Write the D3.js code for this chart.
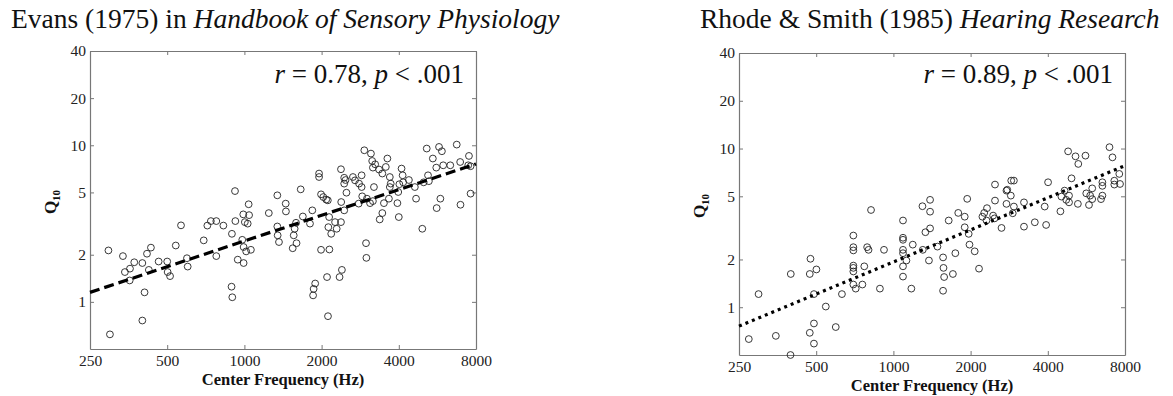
<!DOCTYPE html>
<html>
<head>
<meta charset="utf-8">
<script src="https://cdn.jsdelivr.net/npm/d3@7"></script>
<style>
  body { margin: 0; background: #fff; }
  text { font-family: "Liberation Serif", "Times New Roman", serif; }
</style>
</head>
<body>
<svg id="chart" width="1173" height="396"></svg>
<script>
// Tick values shared by both panels
const freqTicks = [250, 500, 1000, 2000, 4000, 8000];
const qTicks = [1, 2, 5, 10, 20, 40];

// Evans (1975): [center frequency Hz, Q10]
const evansPoints = [
  [295, 2.13], [299, 0.62], [336, 1.96], [342, 1.55], [357, 1.37], [358, 1.63], [372, 1.79],
  [400, 1.77], [400, 0.76], [408, 1.15], [417, 2.03], [424, 1.60], [432, 2.22], [463, 1.81],
  [500, 1.81], [502, 1.55], [513, 1.46], [540, 2.29], [566, 3.08], [597, 1.90], [601, 1.68],
  [694, 2.47], [717, 3.07], [740, 3.28], [777, 3.28], [777, 1.96], [828, 3.07], [894, 2.72],
  [891, 1.25], [897, 1.07], [919, 5.1], [922, 3.28], [942, 1.86], [981, 2.49], [990, 3.62],
  [993, 1.77], [993, 2.24], [1004, 3.23], [1016, 2.10], [1030, 3.16], [1039, 4.2], [1043, 3.58],
  [1060, 2.15], [1245, 3.69], [1344, 4.79], [1344, 3.03], [1348, 2.66], [1364, 2.41],
  [1449, 4.24], [1452, 3.78], [1543, 2.2], [1557, 2.66], [1570, 2.93], [1590, 3.2], [1597, 2.37],
  [1658, 5.23], [1690, 3.51], [1802, 3.16], [1840, 3.84], [1853, 1.10], [1862, 1.21], [1888, 1.31],
  [1990, 2.15], [1990, 4.86], [2030, 4.67], [2085, 4.5], [2115, 4.45], [2100, 1.44], [2118, 0.81],
  [2140, 3.48], [2145, 2.16], [2125, 3.0], [2180, 2.72], [2257, 3.23], [2290, 2.93], [2350, 1.44],
  [2380, 3.23], [2385, 4.34], [2400, 1.60], [2450, 3.84], [2450, 5.69], [2500, 4.98], [2790, 4.24],
  [2800, 5.69], [2865, 5.41], [2880, 4.72], [2980, 2.37], [2990, 1.91], [3005, 4.56], [3090, 4.27],
  [3170, 4.4], [3200, 5.41], [3370, 3.36], [3450, 3.69], [3500, 4.27], [3660, 4.56], [3690, 5.41],
  [3720, 5.69], [3950, 4.27], [4000, 3.48], [3980, 5.03], [4020, 5.64], [4670, 4.56], [4940, 2.93],
  [5000, 5.8], [5240, 5.9], [5620, 3.97], [5810, 4.56], [6960, 4.17], [7620, 4.91],
  [1955, 6.6], [1955, 6.27], [2380, 7.03], [2450, 6.2], [2480, 6.0], [2650, 6.27], [2700, 5.97],
  [2865, 6.43], [2935, 9.29], [3115, 8.85], [3150, 7.94], [3170, 7.2], [3235, 7.56], [3350, 7.0],
  [3450, 6.6], [3610, 8.23], [3560, 7.27], [3690, 6.27], [4100, 7.1], [4140, 6.43], [4160, 5.8],
  [4380, 6.0], [4620, 5.41], [5140, 9.53], [5200, 6.43], [5430, 8.23], [5740, 9.76], [5890, 9.16],
  [5600, 7.2], [5960, 7.45], [6350, 7.45], [6730, 10.1], [6940, 7.82], [7460, 7.45], [7510, 8.55],
  [7620, 7.35]
];

// Rhode & Smith (1985): [center frequency Hz, Q10]
const rhodePoints = [
  [273, 0.63], [298, 1.21], [348, 0.66], [398, 1.62], [397, 0.50], [472, 1.62], [475, 2.02],
  [472, 0.69], [490, 0.79], [490, 0.59], [490, 1.21], [501, 1.73], [545, 1.01], [596, 0.75],
  [630, 1.21], [698, 2.83], [698, 2.39], [698, 2.28], [698, 1.83], [698, 1.77], [698, 1.68],
  [698, 1.39], [713, 1.31], [757, 1.39], [770, 1.81], [790, 2.39], [800, 2.30], [818, 4.1],
  [886, 1.31], [919, 2.30],
  [1090, 3.52], [1090, 2.74], [1090, 2.66], [1090, 2.30], [1090, 2.19], [1090, 1.81], [1090, 1.56],
  [1124, 1.97], [1175, 1.31], [1190, 2.48], [1298, 4.33], [1302, 2.30], [1333, 2.97], [1376, 1.97],
  [1390, 4.75], [1390, 4.0], [1390, 3.14], [1485, 2.41], [1562, 2.06], [1568, 1.77], [1577, 1.55],
  [1562, 1.27], [1643, 3.52], [1706, 1.62], [1744, 2.19], [1790, 3.93], [1897, 3.72], [1897, 3.19],
  [1940, 4.82], [1966, 2.9], [1980, 2.48], [2075, 2.25], [2157, 1.75], [2224, 3.72], [2260, 3.93],
  [2317, 4.21], [2307, 3.52], [2448, 3.78], [2480, 3.63], [2490, 4.7], [2490, 5.93], [2640, 3.16],
  [2760, 4.48], [2760, 5.43], [2870, 5.05], [2920, 3.91], [2950, 4.31], [3230, 4.58], [3230, 3.22],
  [3560, 3.43], [3890, 4.31], [3940, 3.30], [4010, 6.13], [4480, 4.02], [4520, 4.98], [4650, 5.43],
  [4720, 4.75], [4840, 5.05], [4840, 4.58], [5240, 4.48], [5650, 5.22], [5790, 4.41], [5850, 5.05],
  [5960, 5.61], [5960, 4.8], [6450, 4.8], [6530, 5.05], [6530, 5.82], [6530, 6.13], [7270, 5.93],
  [7270, 6.27],
  [2780, 5.5], [2880, 6.28], [2950, 6.28], [4800, 9.6], [5130, 8.93], [5260, 8.0], [5610, 9.02],
  [4950, 6.49], [6960, 10.2], [7150, 8.8], [7600, 6.92], [7650, 5.98]
];

// Regression lines, end points
const evansFit = [[250, 1.15], [8000, 7.6]];
const rhodeFit = [[250, 0.76], [8000, 7.8]];

const svg = d3.select('#chart');

const panels = [
  {
    title: 'Evans (1975) in ', journal: 'Handbook of Sensory Physiology', titleX: 11,
    r: '0.78', points: evansPoints, fit: evansFit, dash: '10,5',
    x0: 90, x1: 476, y0: 51, y1: 349
  },
  {
    title: 'Rhode & Smith (1985) ', journal: 'Hearing Research', titleX: 700,
    r: '0.89', points: rhodePoints, fit: rhodeFit, dash: '3,4',
    x0: 739, x1: 1125, y0: 53, y1: 355
  }
];

panels.forEach(drawPanel);

function drawPanel(p) {
  const x = d3.scaleLog().base(2).domain([250, 8000]).range([p.x0, p.x1]);
  const y = d3.scaleLog().base(2).domain([0.5, 40]).range([p.y1, p.y0]);
  const g = svg.append('g');

  // Title
  const t = g.append('text')
    .attr('x', p.titleX).attr('y', 28)
    .style('font-size', '27.5px').attr('fill', '#111');
  t.append('tspan').text(p.title);
  t.append('tspan').style('font-style', 'italic').text(p.journal);

  // Axes, ticks pointing inward
  const axisColor = '#777';
  const bottom = g.append('g')
    .attr('transform', 'translate(0,' + p.y1 + ')')
    .call(d3.axisBottom(x).tickValues(freqTicks).tickFormat(d3.format('d'))
      .tickSizeInner(-4).tickSizeOuter(0).tickPadding(6));
  const top = g.append('g')
    .attr('transform', 'translate(0,' + p.y0 + ')')
    .call(d3.axisTop(x).tickValues(freqTicks).tickFormat('')
      .tickSizeInner(-4).tickSizeOuter(0));
  const left = g.append('g')
    .attr('transform', 'translate(' + p.x0 + ',0)')
    .call(d3.axisLeft(y).tickValues(qTicks).tickFormat(d3.format('d'))
      .tickSizeInner(-4).tickSizeOuter(0).tickPadding(4));
  const right = g.append('g')
    .attr('transform', 'translate(' + p.x1 + ',0)')
    .call(d3.axisRight(y).tickValues(qTicks).tickFormat('')
      .tickSizeInner(-4).tickSizeOuter(0));

  [bottom, top, left, right].forEach(a => {
    a.select('.domain').attr('stroke', axisColor).attr('stroke-width', 1.2);
    a.selectAll('.tick line').attr('stroke', axisColor);
    a.selectAll('.tick text')
      .attr('fill', '#222')
      .style('font-family', '"Liberation Serif", serif')
      .style('font-size', '15.5px');
  });

  // Axis labels
  g.append('text')
    .attr('x', (p.x0 + p.x1) / 2).attr('y', p.y1 + 36)
    .attr('text-anchor', 'middle')
    .style('font-size', '16.5px').style('font-weight', 'bold')
    .attr('fill', '#111')
    .text('Center Frequency (Hz)');

  const yl = g.append('text')
    .attr('transform', 'translate(' + (p.x0 - 34) + ',' + ((p.y0 + p.y1) / 2 + 2) + ') rotate(-90)')
    .attr('text-anchor', 'middle')
    .style('font-weight', 'bold').attr('fill', '#111');
  yl.append('tspan').style('font-size', '17px').text('Q');
  yl.append('tspan').style('font-size', '11px').attr('dy', '0.35em').text('10');

  // Scatter markers
  g.append('g').selectAll('circle')
    .data(p.points)
    .enter()
    .append('circle')
    .attr('cx', d => x(d[0]))
    .attr('cy', d => y(d[1]))
    .attr('r', 3.4)
    .attr('fill', 'none')
    .attr('stroke', '#222')
    .attr('stroke-width', 0.9);

  // Regression line
  const line = d3.line().x(d => x(d[0])).y(d => y(d[1]));
  g.append('path')
    .datum(p.fit)
    .attr('d', line)
    .attr('fill', 'none')
    .attr('stroke', '#000')
    .attr('stroke-width', 3.2)
    .attr('stroke-dasharray', p.dash);

  // Correlation text
  const s = g.append('text')
    .attr('x', p.x1 - 12).attr('y', 83)
    .attr('text-anchor', 'end')
    .style('font-size', '27px').attr('fill', '#111');
  s.append('tspan').style('font-style', 'italic').text('r');
  s.append('tspan').text(' = ' + p.r + ', ');
  s.append('tspan').style('font-style', 'italic').text('p');
  s.append('tspan').text(' < .001');
}
</script>
</body>
</html>
